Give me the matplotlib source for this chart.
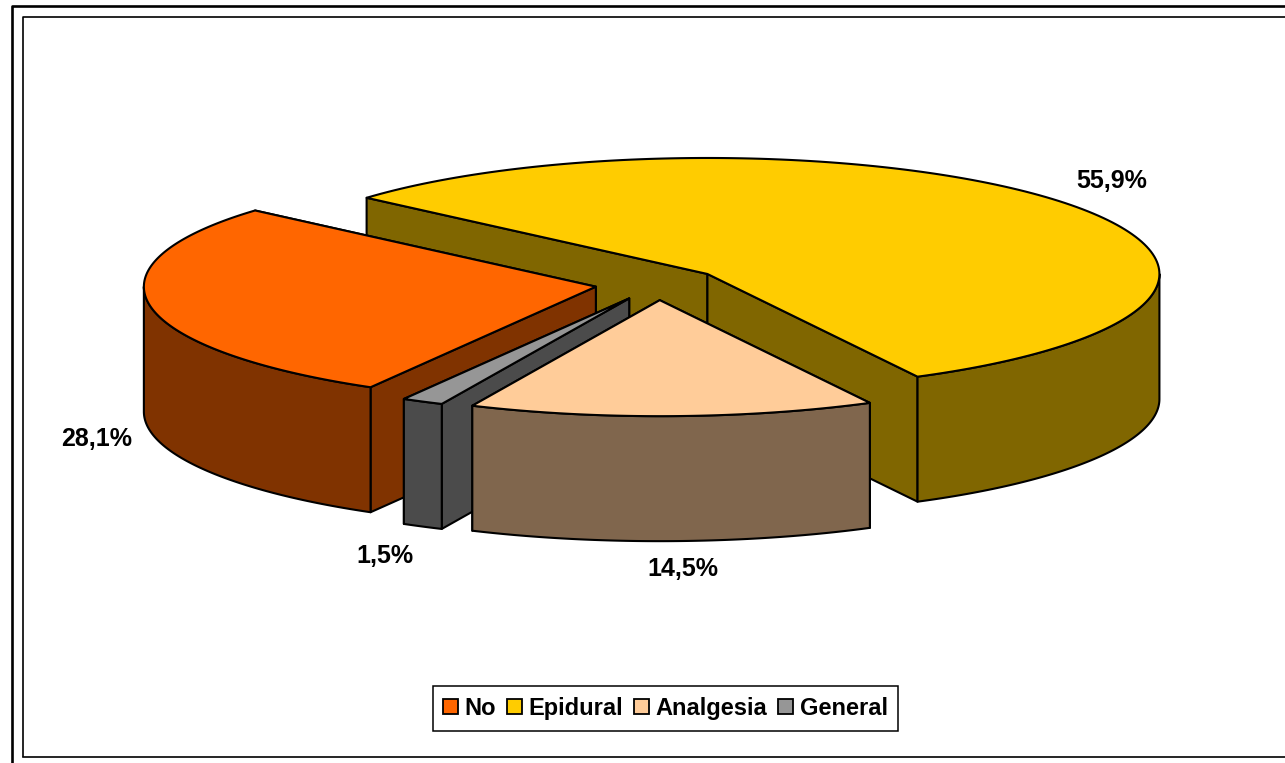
import numpy as np
import matplotlib
matplotlib.use("Agg")
import matplotlib.pyplot as plt
from matplotlib.patches import Patch, Polygon

labels = ["No", "Epidural", "Analgesia", "General"]
shares = [28.1, 55.9, 14.5, 1.5]
top_colors = ["#FF6600", "#FFCC00", "#FFCC99", "#969696"]
side_colors = ["#803300", "#806600", "#80664D", "#4B4B4B"]

# drawing order, back to front
draw_order = ["Epidural", "No", "General", "Analgesia"]

label_pos = {"No": (97, 439), "Epidural": (1112, 181), "Analgesia": (683, 569), "General": (385, 556)}

CX, CY = 658, 284
RX, RY = 452, 116
DEPTH = 125
EXPLODE = 63
START = -119.9  # where "No" begins, going clockwise

plt.rcParams["font.family"] = ["Liberation Sans", "DejaVu Sans"]

fig = plt.figure(figsize=(12.85, 7.63), dpi=100)
ax = fig.add_axes([0, 0, 1, 1])
ax.set_xlim(0, 1285)
ax.set_ylim(763, 0)
ax.axis("off")


def rim(cx, cy, a1, a2, drop=0):
    t = np.radians(np.linspace(a1, a2, 160))
    return np.column_stack([cx + RX * np.cos(t), cy - RY * np.sin(t) + drop])


def face(points, color, z):
    ax.add_patch(Polygon(points, closed=True, facecolor=color, edgecolor="black",
                         linewidth=1.5, joinstyle="round", zorder=z))


def draw_slice(a1, a2, top, side, z):
    mid = np.radians((a1 + a2) / 2)
    cx = CX + EXPLODE * np.cos(mid)
    cy = CY - EXPLODE * RY / RX * np.sin(mid)
    apex = np.array([cx, cy])

    # cut faces, the far one first
    ends = sorted([a1, a2], key=lambda a: -np.sin(np.radians(a)))
    for a in ends:
        p = rim(cx, cy, a, a, 0)[0]
        face([apex, p, p + [0, DEPTH], apex + [0, DEPTH]], side, z)

    # outer wall, only the part turned to the viewer
    lo, hi = a2, a1
    for k in range(-1, 1):
        s, e = max(lo, -180 + 360 * k), min(hi, 360 * k)
        if e > s:
            front = rim(cx, cy, s, e)
            face(np.vstack([front, rim(cx, cy, e, s, DEPTH)]), side, z)

    face(np.vstack([apex, rim(cx, cy, a1, a2)]), top, z)


angles = {}
a = START
for name, share in zip(labels, shares):
    angles[name] = (a, a - share * 3.6)
    a -= share * 3.6

for z, name in enumerate(draw_order):
    i = labels.index(name)
    draw_slice(*angles[name], top_colors[i], side_colors[i], z + 2)

for name, share in zip(labels, shares):
    x, y = label_pos[name]
    ax.text(x, y, f"{share:.1f}%".replace(".", ","), ha="center", va="center",
            fontsize=18, fontweight="bold", color="black", zorder=10)

# chart frames
ax.plot([11.5, 11.5, 1285], [763, 5.5, 5.5], color="black", lw=1.9, zorder=1)
ax.plot([22.5, 22.5, 1285], [756, 16.5, 16.5], color="black", lw=1.2, zorder=1)
ax.plot([22.5, 1285], [756.5, 756.5], color="black", lw=1.2, zorder=1)

handles = [Patch(facecolor=c, edgecolor="black", linewidth=1.3) for c in top_colors]
leg = ax.legend(handles, labels, ncol=4, loc="center", bbox_to_anchor=(665.5, 708.5),
                bbox_transform=ax.transData, fancybox=False, framealpha=1, edgecolor="black",
                prop={"size": 17, "weight": "bold"}, handlelength=0.62, handleheight=0.62,
                handletextpad=0.28, columnspacing=0.47, borderpad=0.46, borderaxespad=0)
leg.get_frame().set_linewidth(1.1)
leg.set_zorder(11)

fig.savefig("out.png", dpi=100, facecolor="white")
